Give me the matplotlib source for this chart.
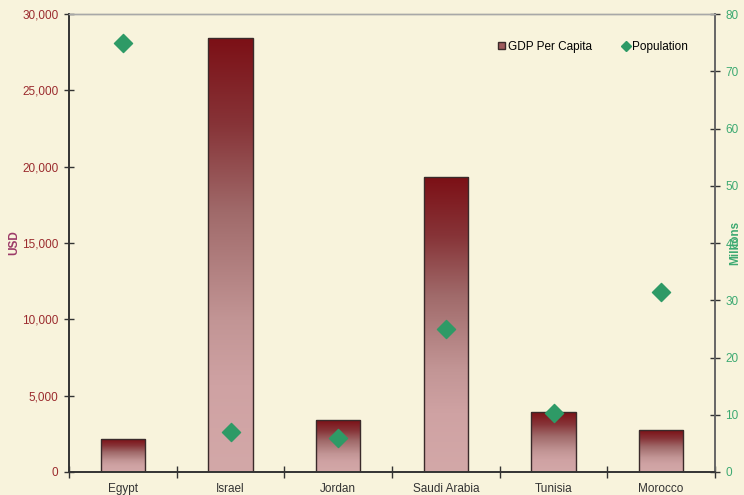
import numpy as np
import matplotlib
matplotlib.use("Agg")
import matplotlib.pyplot as plt
from matplotlib.colors import LinearSegmentedColormap
from matplotlib.lines import Line2D
from matplotlib.patches import Patch

# ------------------------------------------------------------
# Data
# ------------------------------------------------------------
countries = ["Egypt", "Israel", "Jordan", "Saudi Arabia", "Tunisia", "Morocco"]
gdp_per_capita = [2150, 28400, 3400, 19300, 3900, 2750]   # USD
population = [75.0, 7.0, 5.9, 25.0, 10.3, 31.4]          # millions

usd_ticks = [0, 5000, 10000, 15000, 20000, 25000, 30000]
pop_ticks = [0, 10, 20, 30, 40, 50, 60, 70, 80]

BG = "#F8F3DC"
RED_TXT = "#9B2B2E"
USD_TXT = "#9C3A68"
GREEN = "#2E9A66"
GREEN_TXT = "#3DAA72"

# top -> bottom of each bar
BAR_CMAP = LinearSegmentedColormap.from_list(
    "bar", [(0.0, "#7C1016"), (0.2, "#873438"), (0.4, "#A06A6A"),
            (0.65, "#C29595"), (0.8, "#CFA2A3"), (1.0, "#D3A8A8")]
)

plt.rcParams["font.family"] = ["Liberation Sans", "DejaVu Sans"]

fig = plt.figure(figsize=(7.44, 4.95), dpi=100, facecolor=BG)
ax = fig.add_axes([69 / 744, 23 / 495, 646 / 744, 458 / 495])
ax.set_facecolor(BG)
ax2 = ax.twinx()

x = np.arange(len(countries))
width = 0.41

bars = ax.bar(x, gdp_per_capita, width=width, color="none",
              edgecolor="#3a2a2a", linewidth=1.0, zorder=3)

# gradient fill, clipped to each bar
grad = np.linspace(0, 1, 256).reshape(-1, 1)
for b in bars:
    x0, y0 = b.get_x(), b.get_y()
    w, h = b.get_width(), b.get_height()
    im = ax.imshow(grad, cmap=BAR_CMAP, aspect="auto",
                   extent=[x0, x0 + w, y0, y0 + h], origin="upper", zorder=2)
    im.set_clip_path(b)

ax.set_xlim(-0.5, len(countries) - 0.5)
ax.set_ylim(0, 30000)
ax.set_yticks(usd_ticks)
ax.set_yticklabels([f"{v:,}" for v in usd_ticks], color=RED_TXT, fontsize=8.5)
ax.set_xticks(x)
ax.set_xticklabels(countries, fontsize=8.5, color="#333333")
ax.set_xticks(np.arange(len(countries) + 1) - 0.5, minor=True)
ax.tick_params(axis="x", which="major", length=0, pad=8)
ax.tick_params(axis="x", which="minor", direction="inout", length=8,
               color="#333333", width=1)
ax.tick_params(axis="y", direction="inout", length=7, color="#333333",
               width=1, pad=4)
ax.set_ylabel("USD", color=USD_TXT, fontsize=8.5, fontweight="bold")
ax.yaxis.set_label_coords(-0.075, 0.5)

ax2.scatter(x, population, marker="D", s=85, color=GREEN, zorder=5)
ax2.set_ylim(0, 80)
ax2.set_yticks(pop_ticks)
ax2.set_yticklabels([str(v) for v in pop_ticks], color=GREEN_TXT, fontsize=8.5)
ax2.tick_params(axis="y", direction="inout", length=7, color="#333333",
                width=1, pad=4)
ax2.set_ylabel("Millions", color=GREEN_TXT, fontsize=8.5, fontweight="bold")
ax2.yaxis.set_label_coords(1.022, 0.5)

for a in (ax, ax2):
    a.spines["top"].set_color("#a8a8a8")
    a.spines["left"].set_color("#333333")
    a.spines["bottom"].set_color("#333333")
    a.spines["right"].set_color("#666666")
    for s in a.spines.values():
        s.set_linewidth(1.2)
    a.spines["top"].set_linewidth(1.0)

handles = [
    Patch(facecolor="#9E5A5C", edgecolor="#3a2a2a", label="GDP Per Capita"),
    Line2D([], [], marker="D", color=GREEN, linestyle="none", markersize=5,
           label="Population"),
]
ax2.legend(handles=handles, loc="upper right", bbox_to_anchor=(0.975, 0.965),
           ncol=2, frameon=False, fontsize=8.5, handlelength=0.6,
           handleheight=0.6, handletextpad=0.25, columnspacing=2.6)

fig.savefig("out.png", dpi=100, facecolor=BG)
